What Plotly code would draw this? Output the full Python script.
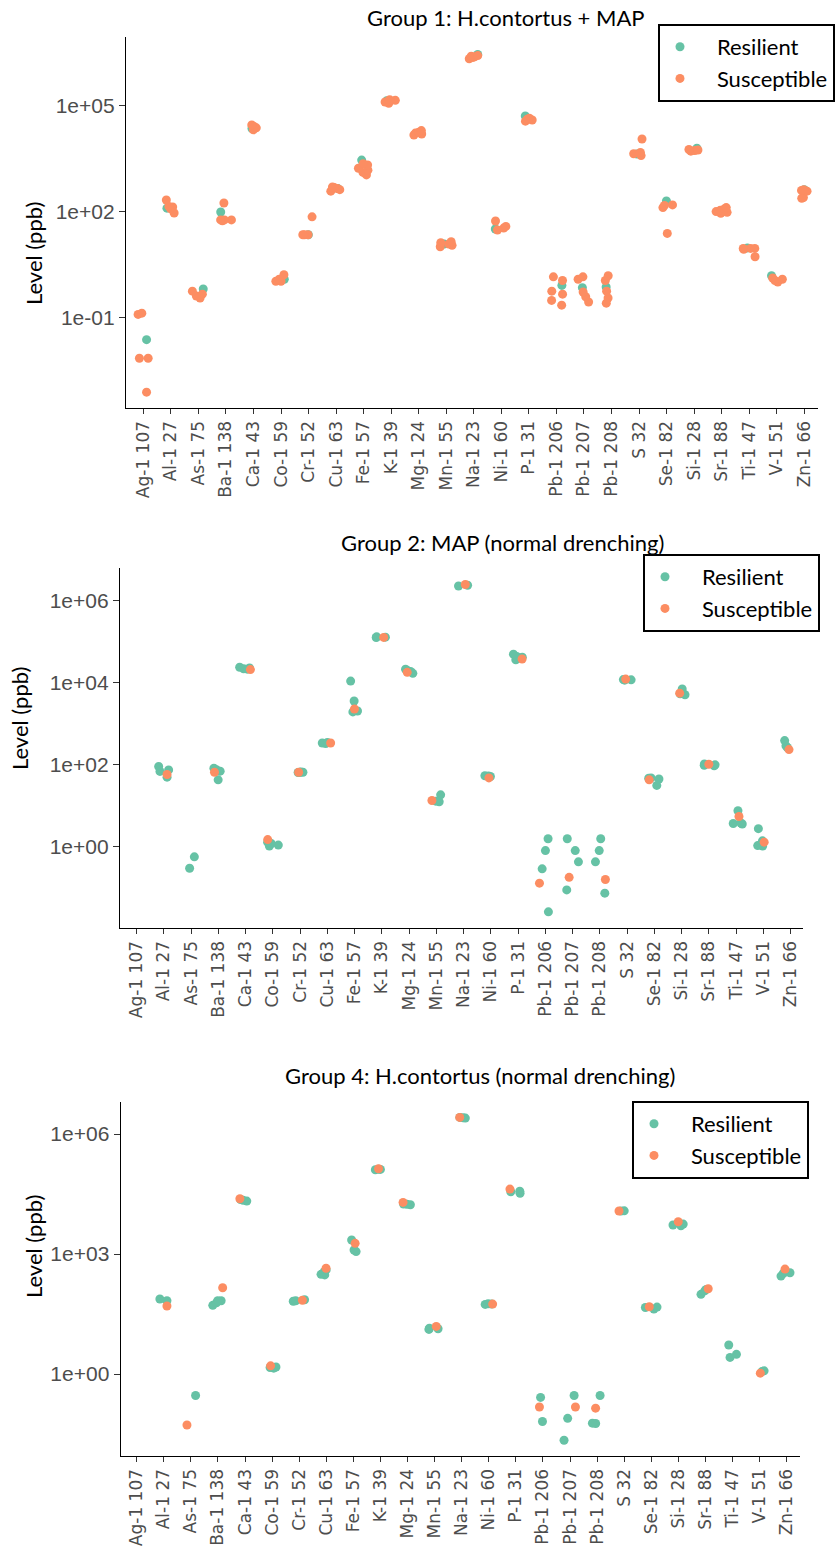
import plotly.graph_objects as go

categories = ["Ag-1 107", "Al-1 27", "As-1 75", "Ba-1 138", "Ca-1 43", "Co-1 59", "Cr-1 52",
              "Cu-1 63", "Fe-1 57", "K-1 39", "Mg-1 24", "Mn-1 55", "Na-1 23", "Ni-1 60",
              "P-1 31", "Pb-1 206", "Pb-1 207", "Pb-1 208", "S 32", "Se-1 82", "Si-1 28",
              "Sr-1 88", "Ti-1 47", "V-1 51", "Zn-1 66"]

# Group 1: H.contortus + MAP  (values in ppb, one list per element)
g1_resilient = [[0.023], [125], [0.63], [97], [23000], [1.2], [22], [450], [2900], [140000],
                [18000], [12], [2.9e6], [32], [52000], [0.8], [0.69], [0.72], [4300], [200],
                [6300], [105], [9.3], [1.5], [420]]
g1_susceptible = [[0.13, 0.12, 0.0068, 0.0068, 0.00074], [135, 214, 120, 91, 140],
                  [0.55, 0.45, 0.4, 0.35], [175, 58, 58, 58, 55], [29000, 26000, 24000, 21000],
                  [1.05, 1.6, 1.2, 1.05], [22, 22, 71, 22], [500, 480, 450, 380, 420],
                  [2100, 1700, 1300, 1100, 2300, 1500], [150000, 130000, 140000, 120000, 145000],
                  [20000, 18000, 17000, 15000, 16000], [13, 11, 12, 10, 14],
                  [2.6e6, 2.4e6, 2.5e6, 2.2e6, 2.7e6], [34, 54, 30, 38],
                  [45000, 40000, 37000, 42000], [1.4, 1.1, 0.55, 0.45, 0.3, 0.22],
                  [1.4, 1.2, 0.52, 0.38, 0.27], [1.5, 1.1, 0.55, 0.35, 0.25],
                  [11500, 4800, 4400, 3900], [150, 130, 155, 24], [5400, 5200, 5600, 5800],
                  [110, 100, 90, 130, 120, 95], [9, 9, 9, 8.5, 5.2], [1.3, 1.1, 1.2, 1.0],
                  [420, 400, 250, 240, 380]]

# Group 2: MAP (normal drenching)
g2_resilient = [[], [91, 75, 69, 50], [0.57, 0.30], [83, 76, 43, 70], [22000, 23000, 24000, 21500],
                [1.2, 1.1, 1.3, 1.05], [66, 66, 67, 65], [330, 340, 350], [11000, 3600, 1950, 2050],
                [130000, 132000, 127000], [17000, 19000, 21500, 20000], [18.5, 12.6, 13],
                [2.4e6, 2.3e6], [52, 53, 54], [50000, 36500, 44000, 42000],
                [1.57, 0.81, 0.29, 0.026], [1.57, 0.81, 0.43, 0.089], [1.57, 0.81, 0.43, 0.074],
                [11800, 11600, 12000], [31.5, 45, 48, 47], [7100, 5100, 5400],
                [105, 100, 97, 95], [7.6, 3.7, 3.6, 3.8], [2.77, 1.4, 1.07, 1.05], [290, 390, 265]]
g2_susceptible = [[], [58], [], [66], [21000], [1.5], [66], [340], [2300], [128000], [18000],
                  [13.5], [2.5e6], [48], [38000], [0.13], [0.18], [0.16], [12300], [43], [5600],
                  [103], [5.5], [1.3], [235]]

# Group 4: H.contortus (normal drenching)
g4_resilient = [[], [68, 75], [0.29], [68, 68, 52, 60], [21000, 22000, 23000], [1.45, 1.4, 1.5],
                [66, 68, 72], [400, 300, 310, 360], [2240, 1260, 1150], [130000, 132000, 128000],
                [17500, 17000, 17800], [14, 13.5, 13], [2.55e6, 2.5e6, 2.6e6], [56, 57, 55],
                [37000, 36000, 33000], [0.26, 0.065], [0.29, 0.078, 0.022], [0.29, 0.059, 0.058],
                [11800, 12000], [46, 42, 47], [5100, 5600, 5300], [98, 120, 130], [2.6, 3.1, 5.3],
                [1.15, 1.2], [280, 330, 340]]
g4_susceptible = [[], [50], [0.053], [143], [24000], [1.6], [70], [440], [1850], [135000], [19500],
                  [15.5], [2.6e6], [56], [42000], [0.15], [0.15], [0.14], [11900], [48], [6400],
                  [135], [], [1.05], [420]]

titles = ["Group 1: H.contortus + MAP", "Group 2: MAP (normal drenching)",
          "Group 4: H.contortus (normal drenching)"]
series_names = ["Resilient", "Susceptible"]

COL_R = "#66C2A5"
COL_S = "#FC8D62"
W, H = 838, 1549
TEXT_FONT = "Lato"
LEG_PAD = "\u00a0\u00a0\u00a0"


def flat(groups):
    xs, ys = [], []
    for cat, vals in zip(categories, groups):
        for v in vals:
            xs.append(cat)
            ys.append(v)
    return xs, ys


fig = go.Figure()
panels = [
    (g1_resilient, g1_susceptible, "", "legend"),
    (g2_resilient, g2_susceptible, "2", "legend2"),
    (g4_resilient, g4_susceptible, "3", "legend3"),
]
for res, sus, ax, leg in panels:
    for name, data, col in ((series_names[0], res, COL_R), (series_names[1], sus, COL_S)):
        xs, ys = flat(data)
        fig.add_trace(go.Box(
            x=xs, y=ys, name=name, boxpoints="all", jitter=0.9, pointpos=0, width=0.5,
            fillcolor="rgba(0,0,0,0)", line=dict(color="rgba(0,0,0,0)", width=0),
            marker=dict(color=col, size=9, line=dict(width=0)), hoveron="points",
            showlegend=False, xaxis="x" + ax, yaxis="y" + ax))
    for name, col in ((series_names[0], COL_R), (series_names[1], COL_S)):
        fig.add_trace(go.Scatter(
            x=categories, y=[None] * len(categories), mode="markers", name=LEG_PAD + name,
            marker=dict(color=col, size=9), legend=leg, legendgroup=name,
            xaxis="x" + ax, yaxis="y" + ax))


def px_x(v):
    return v / W


def px_y(v):
    return 1 - v / H


xcommon = dict(type="category", categoryorder="array", categoryarray=categories,
               showline=True, linecolor="black", linewidth=1.3, ticks="outside", ticklen=5,
               tickcolor="#333333", tickwidth=1, tickangle=-90, showgrid=False, zeroline=False,
               tickfont=dict(family="DejaVu Sans", size=17, color="#4d4d4d"))
ycommon = dict(type="log", showline=True, linecolor="black", linewidth=1.3, ticks="outside",
               ticklen=6, tickcolor="#333333", tickwidth=1, showgrid=False, zeroline=False,
               tickfont=dict(family="Liberation Sans", size=21, color="#4d4d4d"))

legcommon = dict(xanchor="left", yanchor="top", bordercolor="black", borderwidth=2,
                 bgcolor="white", font=dict(family=TEXT_FONT, size=22, color="black"),
                 tracegroupgap=0, itemwidth=30)

fig.update_layout(
    width=W, height=H, margin=dict(l=0, r=0, t=0, b=0),
    paper_bgcolor="white", plot_bgcolor="white", boxmode="overlay",
    xaxis=dict(xcommon, domain=[px_x(126), px_x(818)], range=[-0.63, 24.5], anchor="y"),
    yaxis=dict(ycommon, domain=[px_y(408), px_y(37)], range=[-3.58, 6.96], anchor="x",
               tickvals=[0.1, 100, 1e5], ticktext=["1e-01", "1e+02", "1e+05"]),
    xaxis2=dict(xcommon, domain=[px_x(120), px_x(803)], range=[-0.61, 24.45], anchor="y2"),
    yaxis2=dict(ycommon, domain=[px_y(928), px_y(568)], range=[-1.98, 6.8], anchor="x2",
                tickvals=[1, 100, 1e4, 1e6], ticktext=["1e+00", "1e+02", "1e+04", "1e+06"]),
    xaxis3=dict(xcommon, domain=[px_x(120.7), px_x(800)], range=[-0.59, 24.49], anchor="y3"),
    yaxis3=dict(ycommon, domain=[px_y(1456), px_y(1102)], range=[-2.05, 6.8], anchor="x3",
                tickvals=[1, 1e3, 1e6], ticktext=["1e+00", "1e+03", "1e+06"]),
    legend=dict(legcommon, x=px_x(658), y=px_y(24)),
    legend2=dict(legcommon, x=px_x(643), y=px_y(554)),
    legend3=dict(legcommon, x=px_x(632), y=px_y(1101)),
)

title_pos = [(505, 18), (502, 542), (480, 1075)]
ylab_pos = [(34, 254), (19, 719), (33, 1247)]
for t, (tx, ty), (lx, ly) in zip(titles, title_pos, ylab_pos):
    fig.add_annotation(text=t, x=px_x(tx), y=px_y(ty), xref="paper", yref="paper",
                       showarrow=False, xanchor="center", yanchor="middle",
                       font=dict(family=TEXT_FONT, size=22, color="black"))
    fig.add_annotation(text="Level (ppb)", x=px_x(lx), y=px_y(ly), xref="paper", yref="paper",
                       showarrow=False, xanchor="center", yanchor="middle", textangle=-90,
                       font=dict(family=TEXT_FONT, size=22, color="black"))

fig.write_html("out.html")
